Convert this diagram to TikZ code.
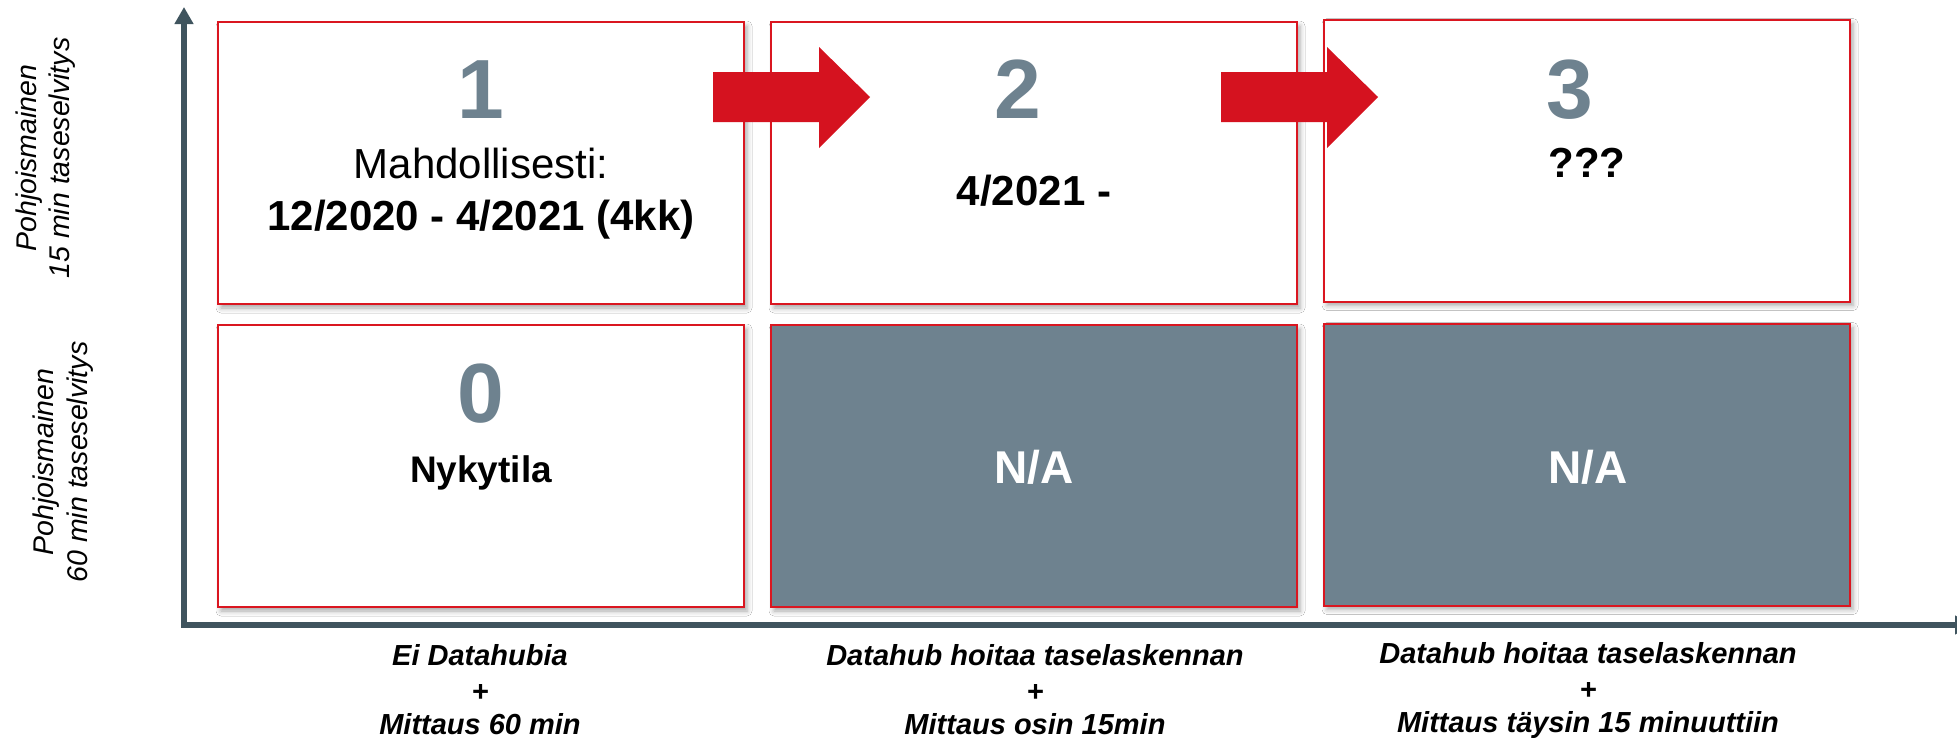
\documentclass[tikz,border=0pt]{standalone}
\usepackage{fontspec}
\setmainfont{Liberation Sans}
\usetikzlibrary{arrows.meta,shadows.blur}
\definecolor{boxred}{HTML}{DA1620}
\definecolor{arrred}{HTML}{D5121F}
\definecolor{slate}{HTML}{6E828F}
\definecolor{axisc}{HTML}{3F545E}
\begin{document}
\begin{tikzpicture}[x=1pt,y=-1pt,
  cell/.style={draw=boxred, line width=2pt, fill=white, minimum width=526pt, minimum height=282pt, inner sep=0pt,
    blur shadow={shadow xshift=3pt, shadow yshift=-4pt, shadow blur radius=5pt, shadow opacity=35}},
  nacell/.style={cell, fill=slate},
  bignum/.style={anchor=base, inner sep=0pt, text=slate, font=\fontsize{84}{90}\selectfont\bfseries},
  plaintxt/.style={anchor=base, inner sep=0pt, font=\fontsize{42}{50}\selectfont},
  boldtxt/.style={anchor=base, inner sep=0pt, font=\fontsize{42}{50}\selectfont\bfseries},
  natxt/.style={anchor=base, inner sep=0pt, text=white, font=\fontsize{46}{54}\selectfont\bfseries},
  ylab/.style={anchor=base, inner sep=0pt, rotate=90, font=\fontsize{28.5}{34}\selectfont\itshape},
  xlab/.style={anchor=base, inner sep=0pt, font=\fontsize{29}{35}\selectfont\bfseries\itshape},
  axisline/.style={draw=axisc, line width=6pt, line join=miter},
  redarrow/.style={fill=arrred}
]
\fill[white] (0,0) rectangle (1957,739);
\useasboundingbox (0,0) rectangle (1957,739);

% axes
\coordinate (ytop) at (184,7);
\coordinate (origin) at (184,625);
\coordinate (xend) at (1972,625);
\draw[axisline, {Triangle[length=17pt,width=18pt]}-{Triangle[length=17pt,width=18pt]}] (ytop) -- (origin) -- (xend);

% cells
\node[cell]   (b1) at (481,163) {};
\node[cell]   (b2) at (1034,163) {};
\node[cell]   (b3) at (1587,160.5) {};
\node[cell]   (b0) at (481,466) {};
\node[nacell] (n1) at (1034,466) {};
\node[nacell] (n2) at (1587,464.5) {};

% red arrows
\fill[redarrow] (713,72) -- (819,72) -- (819,47) -- (870,97) -- (819,148) -- (819,122) -- (713,122) -- cycle;
\fill[redarrow] (1221,72) -- (1327,72) -- (1327,47) -- (1378,97) -- (1327,148) -- (1327,122) -- (1221,122) -- cycle;

% cell texts
\node[bignum] (d1) at (481,118) {1};
\node[plaintxt] (t1a) at (481,178) {Mahdollisesti:};
\node[boldtxt] (t1b) at (481,230) {12/2020 - 4/2021 (4kk)};
\node[bignum] (d2) at (1018,118) {2};
\node[boldtxt] (t2) at (1034,205) {4/2021 -};
\node[bignum] (d3) at (1570,118) {3};
\node[boldtxt] (t3) at (1587,177) {???};
\node[bignum] (d0) at (481,422) {0};
\node[boldtxt, font=\fontsize{37}{44}\selectfont\bfseries] (t0) at (481,482) {Nykytila};
\node[natxt] (na1) at (1034,483) {N/A};
\node[natxt] (na2) at (1588,483) {N/A};

% y labels
\node[ylab] (y1a) at (36,158) {Pohjoismainen};
\node[ylab] (y1b) at (69,158) {15 min taseselvitys};
\node[ylab] (y0a) at (53,462) {Pohjoismainen};
\node[ylab] (y0b) at (87,462) {60 min taseselvitys};

% x labels
\node[xlab] (x0a) at (480,665) {Ei Datahubia};
\node[xlab] (x0b) at (480,701) {+};
\node[xlab] (x0c) at (480,734) {Mittaus 60 min};
\node[xlab] (x1a) at (1035,665) {Datahub hoitaa taselaskennan};
\node[xlab] (x1b) at (1035,701) {+};
\node[xlab] (x1c) at (1035,734) {Mittaus osin 15min};
\node[xlab] (x2a) at (1588,663) {Datahub hoitaa taselaskennan};
\node[xlab] (x2b) at (1588,699) {+};
\node[xlab] (x2c) at (1588,732) {Mittaus täysin 15 minuuttiin};
\end{tikzpicture}
\end{document}
